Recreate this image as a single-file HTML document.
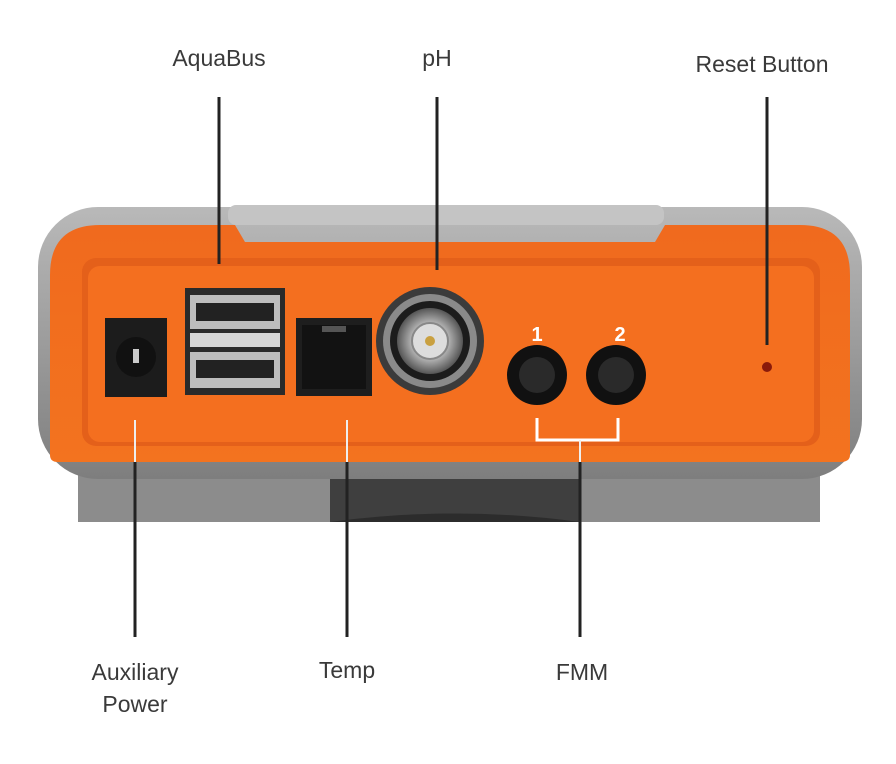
<!DOCTYPE html>
<html><head><meta charset="utf-8"><style>
html,body{margin:0;padding:0;background:#fff;}
svg{display:block;}
text{font-family:"Liberation Sans",sans-serif;}
</style></head><body>
<svg width="896" height="764" viewBox="0 0 896 764" xmlns="http://www.w3.org/2000/svg">
<defs>
<linearGradient id="g1" x1="0" y1="0" x2="0" y2="1">
<stop offset="0" stop-color="#b9b9b9"/><stop offset="0.5" stop-color="#9c9c9c"/><stop offset="1" stop-color="#7e7e7e"/>
</linearGradient>
<linearGradient id="or" x1="0" y1="0" x2="0" y2="1">
<stop offset="0" stop-color="#f06a1e"/><stop offset="1" stop-color="#f3731f"/>
</linearGradient>
<radialGradient id="bnc" cx="0.5" cy="0.5" r="0.5">
<stop offset="0" stop-color="#eee"/><stop offset="0.6" stop-color="#aaa"/><stop offset="1" stop-color="#555"/>
</radialGradient>
</defs>
<rect x="78" y="460" width="742" height="62" fill="#8c8c8c"/>
<rect x="330" y="470" width="250" height="52" fill="#3f3f3f"/>
<path d="M330 522 Q455 505 580 522 Z" fill="#2c2c2c"/>
<rect x="38" y="207" width="824" height="272" rx="60" fill="url(#g1)"/>
<rect x="228" y="205" width="436" height="20" rx="8" fill="#c4c4c4"/>
<path d="M100 225 L235 225 L245 242 L655 242 L665 225 L800 225 Q850 225 850 275 L850 455 Q850 462 840 462 L58 462 Q50 462 50 455 L50 275 Q50 225 100 225 Z" fill="url(#or)"/>
<rect x="82" y="258" width="738" height="188" rx="14" fill="#e4601a"/>
<rect x="88" y="266" width="726" height="176" rx="12" fill="#f46f1f"/>
<rect x="105" y="318" width="62" height="79" fill="#1c1c1c"/>
<circle cx="136" cy="357" r="20" fill="#111"/>
<rect x="133" y="349" width="6" height="14" fill="#ccc"/>
<rect x="185" y="288" width="100" height="107" fill="#2a2a2a"/>
<rect x="190" y="295" width="90" height="34" fill="#bdbdbd"/>
<rect x="196" y="303" width="78" height="18" fill="#222"/>
<rect x="190" y="333" width="90" height="14" fill="#d5d5d5"/>
<rect x="190" y="352" width="90" height="36" fill="#bdbdbd"/>
<rect x="196" y="360" width="78" height="18" fill="#222"/>
<rect x="296" y="318" width="76" height="78" fill="#1e1e1e"/>
<rect x="302" y="325" width="64" height="64" fill="#121212"/>
<rect x="322" y="326" width="24" height="6" fill="#555"/>
<circle cx="430" cy="341" r="54" fill="#3b3b3b"/>
<circle cx="430" cy="341" r="47" fill="#8a8a8a"/>
<circle cx="430" cy="341" r="40" fill="#1c1c1c"/>
<circle cx="430" cy="341" r="33" fill="url(#bnc)"/>
<circle cx="430" cy="341" r="18" fill="#ddd" stroke="#888" stroke-width="2"/>
<circle cx="430" cy="341" r="5" fill="#c9a040"/>
<circle cx="537" cy="375" r="30" fill="#111"/>
<circle cx="537" cy="375" r="18" fill="#2a2a2a"/>
<circle cx="616" cy="375" r="30" fill="#111"/>
<circle cx="616" cy="375" r="18" fill="#2a2a2a"/>
<text x="537" y="341" font-size="20" font-weight="bold" fill="#fff" text-anchor="middle">1</text>
<text x="620" y="341" font-size="20" font-weight="bold" fill="#fff" text-anchor="middle">2</text>
<path d="M537 418 V440 H618 V418" fill="none" stroke="#fff" stroke-width="3"/>
<circle cx="767" cy="367" r="5" fill="#8a1a0a"/>
<g stroke="#222" stroke-width="3">
<line x1="219" y1="97" x2="219" y2="264"/>
<line x1="437" y1="97" x2="437" y2="270"/>
<line x1="767" y1="97" x2="767" y2="345"/>
<line x1="135" y1="462" x2="135" y2="637"/>
<line x1="347" y1="462" x2="347" y2="637"/>
<line x1="580" y1="462" x2="580" y2="637"/>
</g>
<g stroke="#eee" stroke-width="2">
<line x1="135" y1="420" x2="135" y2="462"/>
<line x1="347" y1="420" x2="347" y2="462"/>
<line x1="580" y1="440" x2="580" y2="462"/>
</g>
<g font-size="23" fill="#3a3a3a" text-anchor="middle">
<text x="219" y="66">AquaBus</text>
<text x="437" y="66">pH</text>
<text x="762" y="72">Reset Button</text>
<text x="135" y="680">Auxiliary</text>
<text x="135" y="712">Power</text>
<text x="347" y="678">Temp</text>
<text x="582" y="680">FMM</text>
</g>
</svg>
</body></html>
